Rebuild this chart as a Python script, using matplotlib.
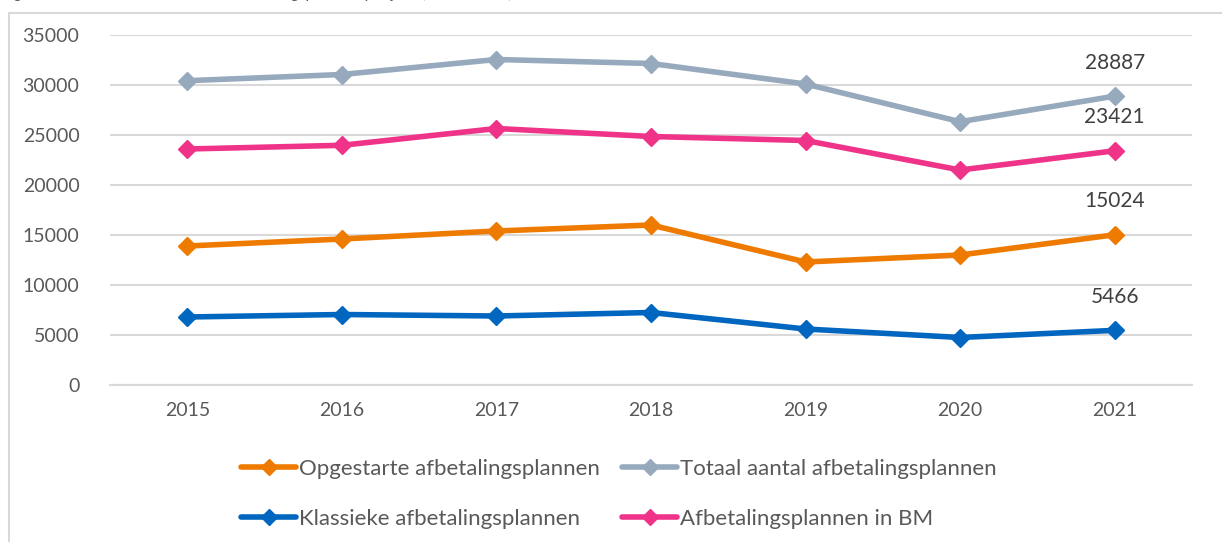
import matplotlib
matplotlib.use("Agg")
import matplotlib.pyplot as plt
from matplotlib.patches import Rectangle

years = ["2015", "2016", "2017", "2018", "2019", "2020", "2021"]
opgestarte = [13900, 14600, 15400, 16000, 12300, 13000, 15024]
totaal = [30430, 31050, 32550, 32150, 30100, 26330, 28887]
klassieke = [6800, 7050, 6900, 7250, 5600, 4750, 5466]
bm = [23600, 23970, 25650, 24850, 24450, 21500, 23421]
yticks = [0, 5000, 10000, 15000, 20000, 25000, 30000, 35000]

series = [
    ("Opgestarte afbetalingsplannen", opgestarte, "#EE7A00"),
    ("Totaal aantal afbetalingsplannen", totaal, "#97AABD"),
    ("Klassieke afbetalingsplannen", klassieke, "#0066BF"),
    ("Afbetalingsplannen in BM", bm, "#EE3388"),
]

plt.rcParams['font.family'] = ['Lato', 'DejaVu Sans']
txt = "#595959"
W, H = 1222, 542
fig = plt.figure(figsize=(W / 100, H / 100), dpi=100)

# chart frame
fig.add_artist(Rectangle((9 / W, -0.1), 1.2, 1 - 13 / H + 0.1, transform=fig.transFigure,
                         fill=False, edgecolor="#D9D9D9", linewidth=1.5))
# cut-off caption above the chart
fig.text(2 / W, 1 + 2 / H, "Figuur 3: Evolutie van het aantal afbetalingsplannen per jaar (2015-2021)",
         fontsize=12, style="italic", color=txt, va="baseline", ha="left")

ax = fig.add_axes([110 / W, 1 - 385 / H, (1192 - 110) / W, (385 - 35) / H])
x = list(range(len(years)))
lines = {}
for name, vals, col in series:
    ln, = ax.plot(x, vals, color=col, linewidth=4, marker="D", markersize=9, label=name,
                  solid_joinstyle="round", solid_capstyle="round")
    lines[name] = ln

for vals in [totaal, bm, opgestarte, klassieke]:
    ax.annotate(f"{vals[-1]}", (x[-1], vals[-1]), xytext=(0, 17), textcoords="offset points",
                ha="center", va="bottom", fontsize=15, color="#404040")

ax.set_xlim(-0.5, len(years) - 0.5)
ax.set_ylim(0, 35000)
ax.set_yticks(yticks)
ax.set_yticklabels([str(v) for v in yticks])
ax.set_xticks(x)
ax.set_xticklabels(years)
ax.grid(axis="y", color="#D9D9D9", linewidth=1.5)
ax.set_axisbelow(True)
for s in ["top", "right", "left"]:
    ax.spines[s].set_visible(False)
ax.spines["bottom"].set_color("#D9D9D9")
ax.spines["bottom"].set_linewidth(1.5)
ax.tick_params(axis="both", length=0, labelsize=14, labelcolor=txt)
ax.tick_params(axis="y", pad=22)
ax.tick_params(axis="x", pad=12)

order = ["Opgestarte afbetalingsplannen", "Klassieke afbetalingsplannen",
         "Totaal aantal afbetalingsplannen", "Afbetalingsplannen in BM"]
leg = fig.legend([lines[n] for n in order], order, loc="upper left",
                 bbox_to_anchor=(232 / W, 1 - 450 / H), ncol=2, frameon=False,
                 fontsize=16, labelcolor=txt, handlelength=2.5, handletextpad=0.1,
                 columnspacing=1.0, labelspacing=1.35, borderaxespad=0)
for h in leg.legend_handles:
    h.set_markersize(8)

fig.savefig("out.png", dpi=100)
